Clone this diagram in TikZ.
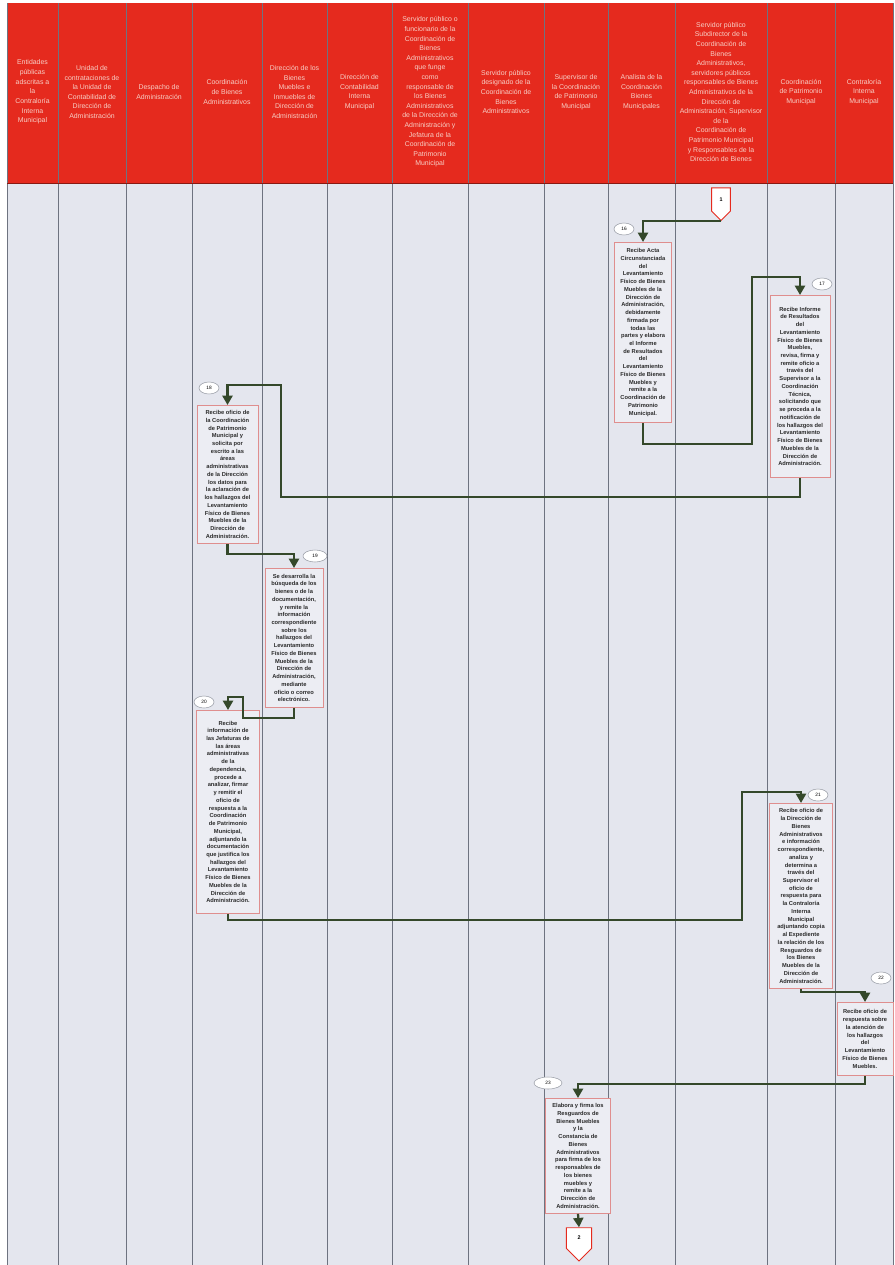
\documentclass[tikz,border=0pt]{standalone}
\usepackage{fontspec}
\setmainfont{Liberation Sans}
\usetikzlibrary{arrows.meta,positioning,calc,shapes.geometric,shapes.symbols}
\definecolor{hdrred}{HTML}{E52A1E}
\definecolor{hdrtxt}{HTML}{F7CFC6}
\definecolor{lane}{HTML}{E4E6EE}
\definecolor{laneline}{HTML}{6E7380}
\definecolor{boxfill}{HTML}{ECEDF3}
\definecolor{boxline}{HTML}{DF8E8E}
\definecolor{flow}{HTML}{34482A}
\definecolor{ink}{HTML}{2B2B2B}
\tikzset{
  >={Triangle[length=7pt,width=7.5pt]},
  hdr/.style={font=\fontsize{5.2}{7.2}\selectfont\color{hdrtxt},align=center,anchor=center},
  act/.style={draw=boxline,fill=boxfill,line width=0.6pt,anchor=north,align=center,inner sep=1pt,font=\fontsize{4.3}{5.8}\selectfont\bfseries\color{ink}},
  stepno/.style={ellipse,draw=laneline!70,fill=white,inner sep=0pt,minimum width=15pt,minimum height=9pt,font=\fontsize{3.6}{4}\selectfont},
  offpage/.style={signal,signal to=south,draw=hdrred,fill=white,line width=0.7pt,inner sep=0pt,font=\fontsize{4}{4}\selectfont\bfseries},
  flowarr/.style={->,draw=flow,line width=1.7pt,line join=miter},
  lanerule/.style={draw=laneline,line width=0.6pt},
}
\begin{document}
\begin{tikzpicture}[x=0.75pt,y=-0.75pt]
\useasboundingbox (0,0) rectangle (895,1265);
\fill[white] (0,0) rectangle (895,1265);
% lanes and header band
\fill[lane] (7,183) rectangle (893,1265);
\fill[hdrred] (7,3) rectangle (893,183);
\foreach \x in {7,58,126,192,262,327,392,468,544,608,675,767,835,893}
  \draw[lanerule] (\x,3) -- (\x,1265);
\draw[draw=hdrred!60!black,line width=0.6pt] (7,183) -- (893,183);
% lane titles
\foreach \cx/\txt [count=\i] in {
  32.5/{Entidades\\públicas\\adscritas a\\la\\Contraloría\\Interna\\Municipal},
  92/{Unidad de\\contrataciones de\\la Unidad de\\Contabilidad de\\Dirección de\\Administración},
  159/{Despacho de\\Administración},
  227/{Coordinación\\de Bienes\\Administrativos},
  294.5/{Dirección de los\\Bienes\\Muebles e\\Inmuebles de\\Dirección de\\Administración},
  359.5/{Dirección de\\Contabilidad\\Interna\\Municipal},
  430/{Servidor público o\\funcionario de la\\Coordinación de\\Bienes\\Administrativos\\que funge\\como\\responsable de\\los Bienes\\Administrativos\\de la Dirección de\\Administración y\\Jefatura de la\\Coordinación de\\Patrimonio\\Municipal},
  506/{Servidor público\\designado de la\\Coordinación de\\Bienes\\Administrativos},
  576/{Supervisor de\\la Coordinación\\de Patrimonio\\Municipal},
  641.5/{Analista de la\\Coordinación\\Bienes\\Municipales},
  721/{Servidor público\\Subdirector de la\\Coordinación de\\Bienes\\Administrativos,\\servidores públicos\\responsables de Bienes\\Administrativos de la\\Dirección de\\Administración, Supervisor\\de la\\Coordinación de\\Patrimonio Municipal\\y Responsables de la\\Dirección de Bienes},
  801/{Coordinación\\de Patrimonio\\Municipal},
  864/{Contraloría\\Interna\\Municipal}}
  \node[hdr] (h\i) at (\cx,92) {\txt};
% connectors off page
\node[offpage,minimum width=14pt,minimum height=18.5pt] (start) at (721,199.5) {1};
\node[offpage,minimum width=19pt,minimum height=16.5pt] (stop) at (579,1238) {2};
% activities
\node[act,minimum width=42.75pt,minimum height=135pt] (b1) at (643,242) {Recibe Acta\\Circunstanciada\\del\\Levantamiento\\Físico de Bienes\\Muebles de la\\Dirección de\\Administración,\\debidamente\\firmada por\\todas las\\partes y elabora\\el Informe\\de Resultados\\del\\Levantamiento\\Físico de Bienes\\Muebles y\\remite a la\\Coordinación de\\Patrimonio\\Municipal.};
\node[act,minimum width=45pt,minimum height=136.5pt] (b2) at (800,295) {Recibe Informe\\de Resultados\\del\\Levantamiento\\Físico de Bienes\\Muebles,\\revisa, firma y\\remite oficio a\\través del\\Supervisor a la\\Coordinación\\Técnica,\\solicitando que\\se proceda a la\\notificación de\\los hallazgos del\\Levantamiento\\Físico de Bienes\\Muebles de la\\Dirección de\\Administración.};
\node[act,minimum width=45.75pt,minimum height=103.5pt] (b3) at (227.5,405) {Recibe oficio de\\la Coordinación\\de Patrimonio\\Municipal y\\solicita por\\escrito a las\\áreas\\administrativas\\de la Dirección\\los datos para\\la aclaración de\\los hallazgos del\\Levantamiento\\Físico de Bienes\\Muebles de la\\Dirección de\\Administración.};
\node[act,minimum width=43.5pt,minimum height=104.25pt] (b4) at (294,568) {Se desarrolla la\\búsqueda de los\\bienes o de la\\documentación,\\y remite la\\información\\correspondiente\\sobre los\\hallazgos del\\Levantamiento\\Físico de Bienes\\Muebles de la\\Dirección de\\Administración,\\mediante\\oficio o correo\\electrónico.};
\node[act,minimum width=47.25pt,minimum height=152.25pt] (b5) at (228,710) {Recibe\\información de\\las Jefaturas de\\las áreas\\administrativas\\de la\\dependencia,\\procede a\\analizar, firmar\\y remitir el\\oficio de\\respuesta a la\\Coordinación\\de Patrimonio\\Municipal,\\adjuntando la\\documentación\\que justifica los\\hallazgos del\\Levantamiento\\Físico de Bienes\\Muebles de la\\Dirección de\\Administración.};
\node[act,minimum width=47.25pt,minimum height=138.75pt] (b6) at (801,803) {Recibe oficio de\\la Dirección de\\Bienes\\Administrativos\\e información\\correspondiente,\\analiza y\\determina a\\través del\\Supervisor el\\oficio de\\respuesta para\\la Contraloría\\Interna\\Municipal\\adjuntando copia\\al Expediente\\la relación de los\\Resguardos de\\los Bienes\\Muebles de la\\Dirección de\\Administración.};
\node[act,minimum width=42pt,minimum height=54.75pt] (b7) at (865,1002) {Recibe oficio de\\respuesta sobre\\la atención de\\los hallazgos\\del\\Levantamiento\\Físico de Bienes\\Muebles.};
\node[act,minimum width=48.75pt,minimum height=86.25pt] (b8) at (578,1098) {Elabora y firma los\\Resguardos de\\Bienes Muebles\\y la\\Constancia de\\Bienes\\Administrativos\\para firma de los\\responsables de\\los bienes\\muebles y\\remite a la\\Dirección de\\Administración.};
% step numbers
\node[stepno] (n16) at (624,229) {16};
\node[stepno] (n17) at (822,284) {17};
\node[stepno] (n18) at (209,388) {18};
\node[stepno,minimum width=18pt] (n19) at (315,556) {19};
\node[stepno] (n20) at (204,702) {20};
\node[stepno] (n21) at (818,795) {21};
\node[stepno] (n22) at (881,978) {22};
\node[stepno,minimum width=21pt] (n23) at (548,1083) {23};
% flow
\draw[flowarr] (start.south) -| (b1.north);
\draw[flowarr] (b1.south) -- ++(0,21) -| (752,277) -| (b2.north);
\draw[flowarr] (b2.south) -- ++(0,19) -| (281,385) -| (b3.north);
\draw[flowarr] (b3.south) -- ++(0,10) -| (b4.north);
\draw[flowarr] (b4.south) -- ++(0,10) -| (243,697) -| (b5.north);
\draw[flowarr] (b5.south) -- ++(0,6) -| (742,792) -| (b6.north);
\draw[flowarr] (b6.south) -- ++(0,3) -| (b7.north);
\draw[flowarr] (b7.south) -- ++(0,8) -| (b8.north);
\draw[flowarr] (b8.south) -- (stop.north);
\end{tikzpicture}
\end{document}
